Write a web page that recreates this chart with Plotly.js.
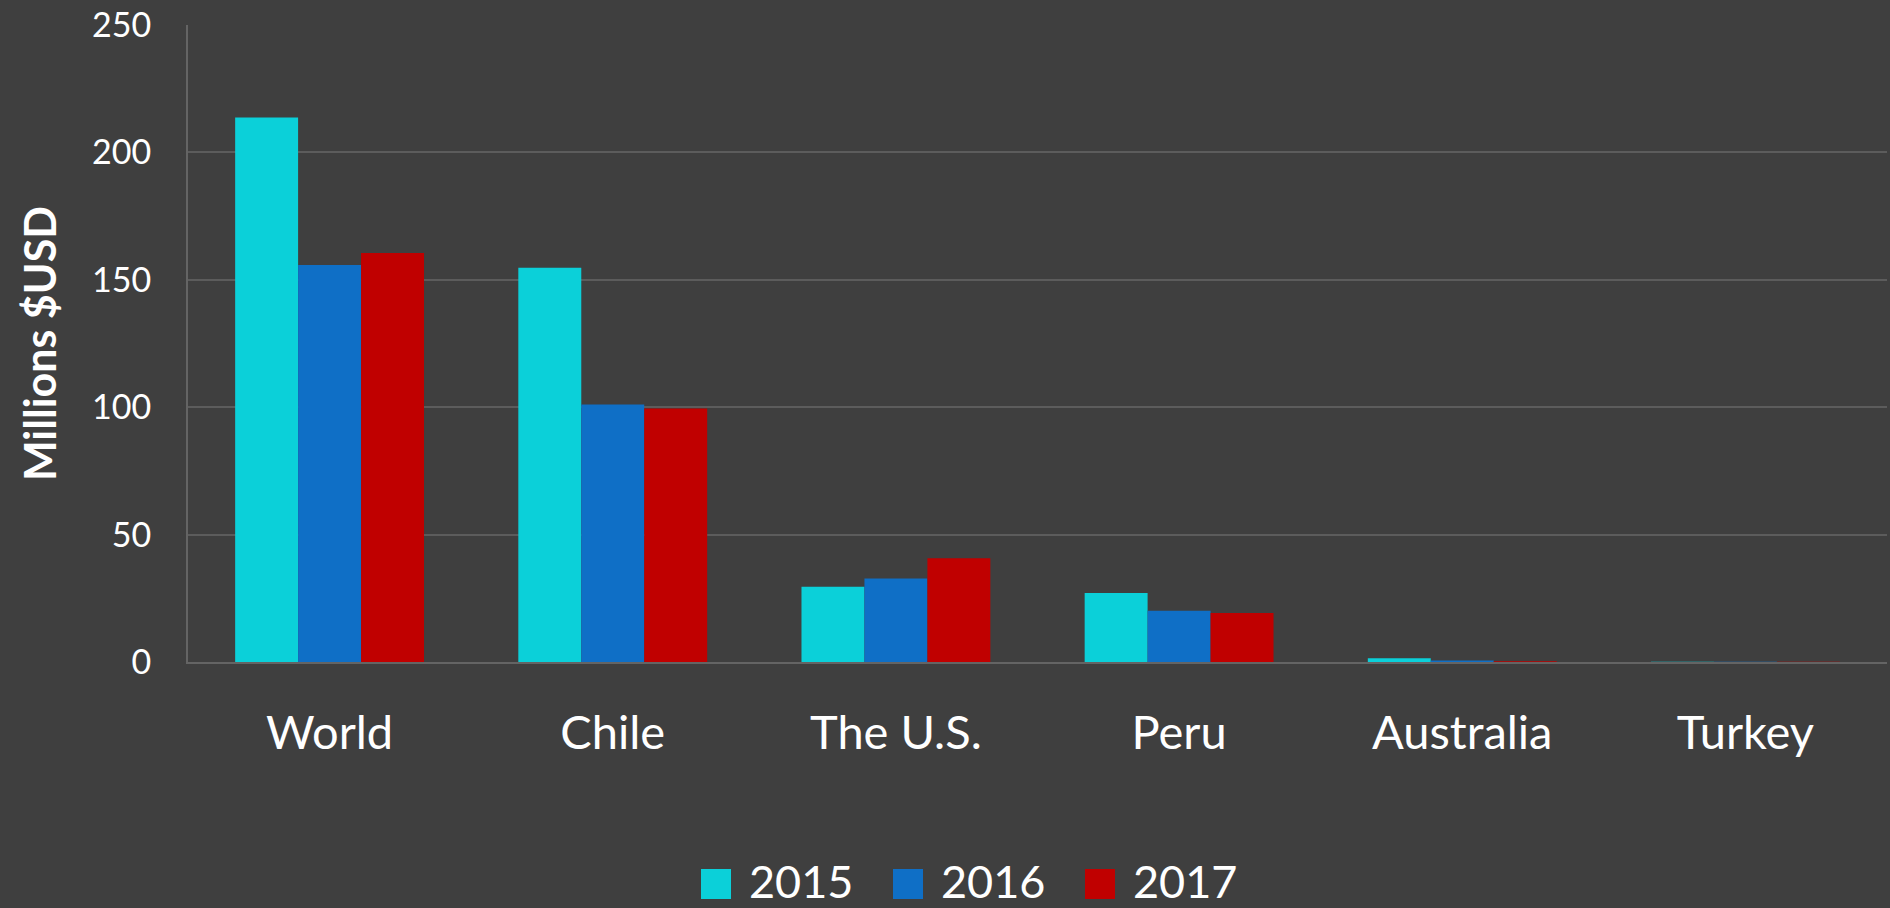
<!DOCTYPE html>
<html>
<head>
<meta charset="utf-8">
<script src="https://cdn.plot.ly/plotly-3.0.1.min.js"></script>
<style>
  html, body { margin: 0; padding: 0; background: #3f3f3f; }
  #chart { width: 1890px; height: 908px; }
</style>
</head>
<body>
<div id="chart"></div>
<script>
const categories = ['World', 'Chile', 'The U.S.', 'Peru', 'Australia', 'Turkey'];
const values2015 = [213.7, 154.7, 29.5, 27.1, 1.5, 0.1];
const values2016 = [155.8, 101.1, 32.8, 20.1, 0.6, 0.05];
const values2017 = [160.5, 99.5, 40.7, 19.2, 0.3, 0.05];
const seriesNames = ['2015', '2016', '2017'];
const seriesColors = ['#0bd0d9', '#0f6fc6', '#c00000'];
const yTicks = [0, 50, 100, 150, 200, 250];

const allValues = [values2015, values2016, values2017];
const traces = allValues.map((vals, i) => ({
  type: 'bar',
  name: seriesNames[i],
  x: categories,
  y: vals,
  marker: { color: seriesColors[i], line: { width: 0 } },
  showlegend: false
}));

const FONT = 'Lato, "Open Sans", "Noto Sans", sans-serif';

// plot area in pixels (for placing the legend in paper coordinates)
const W = 1890, H = 908;
const M = { l: 188, r: 3, t: 25, b: 246 };
const pw = W - M.l - M.r, ph = H - M.t - M.b;
const px2x = px => (px - M.l) / pw;
const py2y = py => (H - M.b - py) / ph;

// legend: swatch + label per series
const legendStart = 701, legendStep = 192, swatch = 30, labelGap = 16;
const legendTop = 869;
const shapes = [];
const annotations = [];
seriesNames.forEach((name, i) => {
  const x0 = legendStart + i * legendStep;
  shapes.push({
    type: 'rect', xref: 'paper', yref: 'paper',
    x0: px2x(x0), x1: px2x(x0 + swatch),
    y0: py2y(legendTop + swatch), y1: py2y(legendTop),
    fillcolor: seriesColors[i], line: { width: 0 }
  });
  annotations.push({
    xref: 'paper', yref: 'paper',
    x: px2x(x0 + swatch + labelGap), y: py2y(legendTop + swatch / 2 - 3),
    xanchor: 'left', yanchor: 'middle',
    text: name, showarrow: false,
    font: { family: FONT, size: 45, color: '#ffffff' }
  });
});

const layout = {
  width: W,
  height: H,
  paper_bgcolor: '#3f3f3f',
  plot_bgcolor: '#3f3f3f',
  font: { family: FONT, color: '#ffffff' },
  margin: { l: M.l, r: M.r, t: M.t, b: M.b, pad: 0, autoexpand: false },
  barmode: 'group',
  bargap: 0.333,
  bargroupgap: 0,
  showlegend: false,
  shapes: shapes,
  annotations: annotations,
  xaxis: {
    type: 'category',
    showgrid: false,
    showline: true,
    linecolor: '#646464',
    linewidth: 2,
    ticks: '',
    ticklabelstandoff: 29,
    tickfont: { family: FONT, size: 47, color: '#ffffff' },
    zeroline: false
  },
  yaxis: {
    range: [0, 250],
    tickvals: yTicks,
    ticktext: yTicks.map(String),
    showgrid: true,
    gridcolor: '#5c5c5c',
    gridwidth: 2,
    showline: true,
    linecolor: '#646464',
    linewidth: 2,
    zeroline: false,
    ticks: '',
    ticklabelstandoff: 28,
    tickfont: { family: FONT, size: 34, color: '#ffffff' },
    title: {
      text: '<b>Millions $USD</b>',
      font: { family: FONT, size: 43, color: '#ffffff' },
      standoff: 22
    }
  }
};

Plotly.newPlot('chart', traces, layout, { displayModeBar: false, staticPlot: true });
</script>
</body>
</html>
